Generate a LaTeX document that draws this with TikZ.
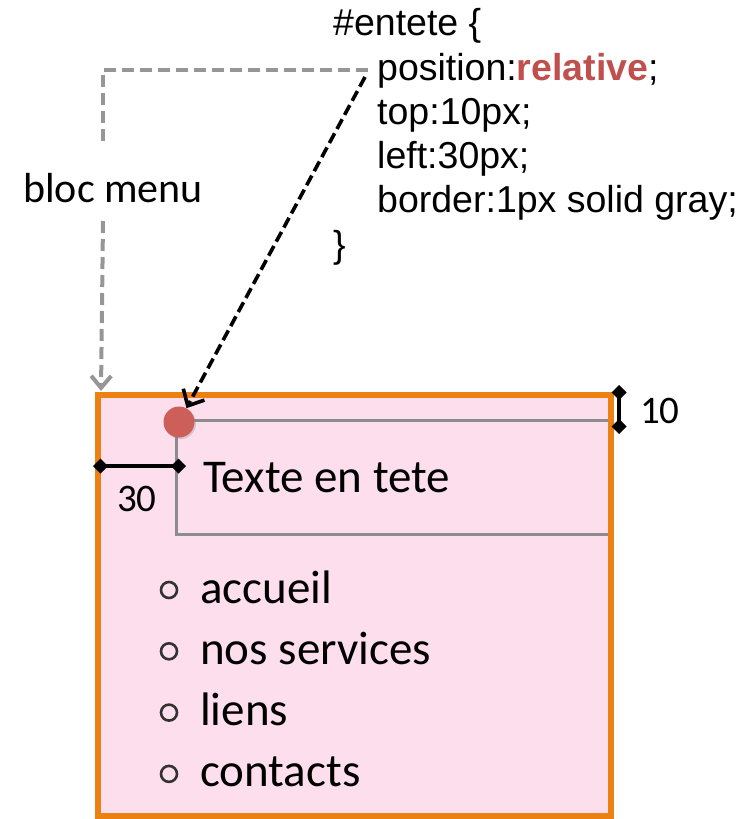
\documentclass[tikz,border=0pt]{standalone}
\usepackage{fontspec}
\setmainfont{Carlito}
\newfontfamily\codefont{Liberation Sans}
\usepackage{xcolor}
\definecolor{frameorange}{RGB}{236,128,16}
\definecolor{menupink}{RGB}{253,222,237}
\definecolor{dotred}{RGB}{205,95,90}
\definecolor{relred}{RGB}{192,80,77}
\definecolor{guidegray}{RGB}{150,150,150}
\definecolor{entetegray}{RGB}{140,140,140}
\definecolor{bulletgray}{RGB}{50,50,50}
\definecolor{ink}{HTML}{000000}
\usetikzlibrary{arrows.meta,positioning,shadows}

\begin{document}
\begin{tikzpicture}[x=1pt, y=-1pt,
	codetxt/.style={anchor=base west, inner sep=0pt, font=\codefont\fontsize{37.5}{40}\selectfont},
	pagetxt/.style={anchor=base west, inner sep=0pt, font=\fontsize{47}{50}\selectfont},
	dimtxt/.style={anchor=base west, inner sep=0pt, font=\fontsize{39}{40}\selectfont},
	guide/.style={draw=guidegray, line width=4pt, dash pattern=on 12pt off 6pt},
	pointer/.style={draw=ink, line width=3.6pt, dash pattern=on 11pt off 5pt},
	dimline/.style={draw=ink, line width=3.6pt,
		{Diamond[length=15pt,width=15pt]}-{Diamond[length=15pt,width=15pt]}}
	]

	\useasboundingbox (0,0) rectangle (747,819);

	% ================= bloc menu =================
	\coordinate (fnw) at (97.5,395);
	\coordinate (fse) at (610.5,816);

	\fill[menupink] (fnw) rectangle (fse);

	\draw[entetegray, line width=3pt] (176,420) rectangle (609,534);

	\node[pagetxt] (headtxt) at (203,492) {Texte en tete};

	\foreach \lbl [count=\i, evaluate=\i as \y using 603+(\i-1)*61.3] in
		{accueil, nos services, liens, contacts}{
		\node[circle, draw=bulletgray, line width=2.6pt, minimum size=16pt,
			inner sep=0pt] (bul\i) at (169,\y-13) {};
		\node[pagetxt] (item\i) at (200,\y) {\lbl};
	}

	\draw[frameorange, line width=6pt] (fnw) rectangle (fse);

	\node[
	circle,
	fill=dotred,
	minimum size=31pt,
	inner sep=0pt,
	drop shadow={opacity=0.3, shadow xshift=1.5pt, shadow yshift=-1.5pt}
	] (dot) at (179,422) {};

	% ================= offsets =================
	\coordinate (leftA) at (93,466);
	\coordinate (leftB) at (186,466);
	\draw[dimline] (leftA) -- (leftB);
	\node[dimtxt] (leftval) at (117,511) {30};

	\coordinate (topA) at (619,385);
	\coordinate (topB) at (619,434);
	\draw[dimline] (topA) -- (topB);
	\node[dimtxt] (topval) at (640,423) {10};

	% ================= CSS rule =================
	\node[codetxt] (selhead) at (333,35) {\#entete \{};
	\node[codetxt] (posline) at (377,80) {position:\textcolor{relred}{\textbf{relative}};};
	\node[codetxt] (topline) at (377,124) {top:10px;};
	\node[codetxt] (leftline) at (377,168) {left:30px;};
	\node[codetxt] (borderline) at (377,212) {border:1px solid gray;};
	\node[codetxt] (selend) at (333,257) {\}};

	\node[anchor=base west, inner sep=0pt, font=\fontsize{42}{44}\selectfont]
	(blocmenu) at (23,202) {bloc menu};

	% ================= connectors =================
	\coordinate (guidegap) at (103,145);
	\coordinate (guideback) at (103,221);
	\coordinate (menutop) at (101,391);
	\coordinate (ptrtail) at (365,77);

	\draw[guide] ([xshift=-9pt]posline.west) -| (guidegap);
	\draw[guide, -{Straight Barb[length=12pt,width=20pt]}] (guideback) -- (menutop);

	\draw[pointer, -{Straight Barb[length=13pt,width=24pt]}] (ptrtail) -- (dot);

\end{tikzpicture}
\end{document}
